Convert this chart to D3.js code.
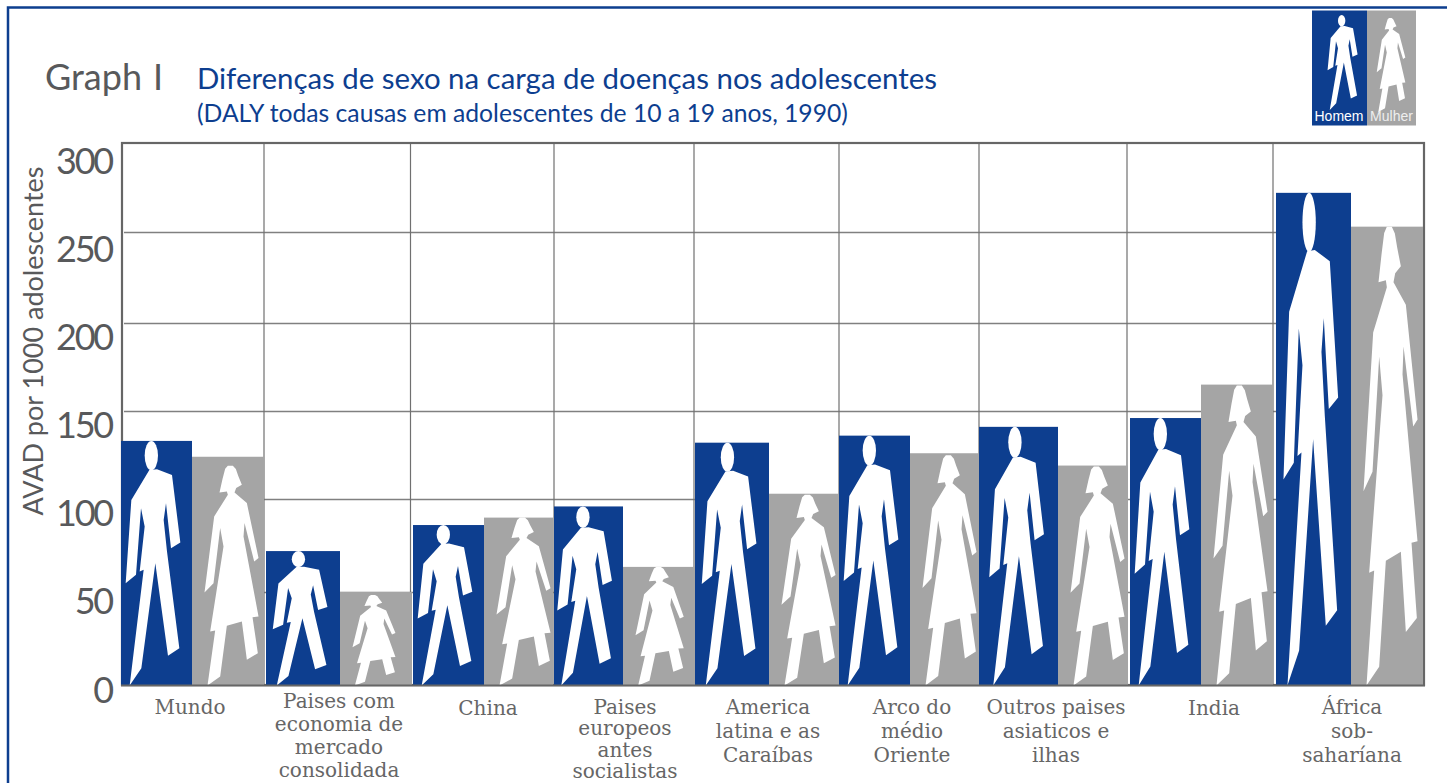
<!DOCTYPE html>
<html>
<head>
<meta charset="utf-8">
<script src="https://cdn.jsdelivr.net/npm/d3@7"></script>
<style>
    body { margin: 0; background: #fff; overflow: hidden; }
    svg { display: block; }
    .sans { font-family: Lato, "Open Sans", sans-serif; }
    .slab { font-family: "DejaVu Serif", serif; }
</style>
</head>
<body>
<div id="chart"></div>
<script>
var categories = ['Mundo', 'Paises com economia', 'China', 'Paises europeos', 'America latina',
                  'Arco do médio Oriente', 'Outros paises', 'India', 'África sob-saharíana'];
var homem  = [133, 72, 86, 96, 132, 136, 141, 146, 272];
var mulher = [124, 50, 90, 63.5, 103, 126, 119, 165, 253];
var categoryLines = [
    ['Mundo'],
    ['Paises com', 'economia de', 'mercado', 'consolidada'],
    ['China'],
    ['Paises', 'europeos', 'antes', 'socialistas'],
    ['America', 'latina e as', 'Caraíbas'],
    ['Arco do', 'médio', 'Oriente'],
    ['Outros paises', 'asiaticos e', 'ilhas'],
    ['India'],
    ['África', 'sob-', 'saharíana']
];
var yTicks = [0, 50, 100, 150, 200, 250, 300];

var blue = '#0d3e8f', grey = '#a5a5a5', ink = '#58595b', rule = '#808080';

// figures, in crop pixels
var manBox = {x: [362, 575], y: [63, 797]};
var manBody = [[447,150],[470,148],[515,165],[540,368],[512,385],[497,250],[490,300],[500,395],[537,685],[503,708],
               [465,430],[423,745],[388,797],[430,450],[418,455],[433,320],[422,265],[407,465],[376,490],[393,240]];
var manHead = {cx: 453, cy: 107, rx: 20, ry: 44};
var womanBox = {x: [575, 790], y: [138, 797]};
var womanBody = [[683,138],[698,138],[707,148],[714,168],[725,195],[708,205],[703,218],[740,250],[775,415],[762,425],[733,310],
                 [730,350],[775,590],[757,592],[773,700],[740,720],[725,605],[680,618],[660,770],[622,797],[645,632],
                 [630,635],[670,380],[660,325],[640,490],[613,518],[642,290],[683,225],[680,215],[658,218],[667,178],[675,147]];

var svg = d3.select('#chart').append('svg').attr('width', 1447).attr('height', 783);

// the printed axis is not quite even, so the scale goes through each gridline
var y = d3.scaleLinear().domain(yTicks).range([685, 592, 499, 411, 323, 232, 143]);
// and the numbers sit below their gridlines
var yLabel = d3.scaleLinear().domain([0, 300]).range([690.5, 162]);

// groups are not the same width either
var barLeft  = d3.scaleOrdinal().domain(categories).range([121, 266, 413, 554, 695, 839, 979, 1130, 1276]);
var barMid   = d3.scaleOrdinal().domain(categories).range([192, 340, 484, 623, 769, 910, 1058, 1201, 1351]);
var barRight = d3.scaleOrdinal().domain(categories).range([264, 412, 553, 695, 839, 979, 1128, 1273, 1423]);
var labelX   = d3.scaleOrdinal().domain(categories).range([190, 339, 488, 625, 768, 912, 1056, 1214, 1352]);
var labelTop = d3.scaleOrdinal().domain(categories).range([714, 708, 715, 714, 714, 714, 714, 715, 714]);
// socialistas has to stay on the page
var labelStep = d3.scaleOrdinal().domain(categories).range([24, 23, 24, 21.4, 24, 24, 24, 24, 24]);
var hairGap  = d3.scaleOrdinal().domain(categories).range([9, 3, 0, 0, 1, 2, 1, 1, 0]);
// the two short women are also drawn narrower
var womanWidth = d3.scaleOrdinal().domain(categories).range([71.7, 57, 71.7, 64, 71.7, 71.7, 71.7, 71.7, 71.7]);
var groupLines = [264, 410.5, 554, 694, 839, 979, 1127, 1273];

var lineGen = d3.line();

function drawMan(g, x0, x1, y0, y1) {
    var sx = d3.scaleLinear().domain(manBox.x).range([x0, x1]);
    var sy = d3.scaleLinear().domain(manBox.y).range([y0, y1]);
    g.append('path')
        .attr('d', lineGen(manBody.map(function(p) { return [sx(p[0]), sy(p[1])]; })) + 'Z')
        .attr('fill', '#fff');
    g.append('ellipse')
        .attr('cx', sx(manHead.cx)).attr('cy', sy(manHead.cy))
        .attr('rx', sx(manHead.cx + manHead.rx) - sx(manHead.cx))
        .attr('ry', sy(manHead.cy + manHead.ry) - sy(manHead.cy))
        .attr('fill', '#fff');
}

function drawWoman(g, x0, x1, y0, y1) {
    var sx = d3.scaleLinear().domain(womanBox.x).range([x0, x1]);
    var sy = d3.scaleLinear().domain(womanBox.y).range([y0, y1]);
    g.append('path')
        .attr('d', lineGen(womanBody.map(function(p) { return [sx(p[0]), sy(p[1])]; })) + 'Z')
        .attr('fill', '#fff');
}

// blue page frame, open on the right
svg.append('path')
    .attr('d', 'M1447,7.5H8V783')
    .attr('fill', 'none').attr('stroke', blue).attr('stroke-width', 2.5);

// titles
svg.append('text').attr('class', 'sans').attr('x', 45).attr('y', 90)
    .attr('font-size', 36).attr('fill', ink).text('Graph');
svg.append('text').attr('class', 'sans').attr('x', 153).attr('y', 90)
    .attr('font-size', 36).attr('fill', ink).text('I');
svg.append('text').attr('class', 'sans').attr('x', 197).attr('y', 89)
    .attr('font-size', 29.4).attr('fill', blue).text('Diferenças de sexo na carga de doenças nos adolescentes');
svg.append('text').attr('class', 'sans').attr('x', 197).attr('y', 122)
    .attr('font-size', 24.7).attr('fill', blue).text('(DALY todas causas em adolescentes de 10 a 19 anos, 1990)');

// gridlines
var grid = svg.append('g').attr('transform', 'translate(124,0)')
    .call(d3.axisLeft(y).tickValues(yTicks.slice(1, -1)).tickSize(-1299).tickFormat(''));
grid.select('.domain').remove();
grid.selectAll('line').attr('stroke', rule).attr('stroke-width', 1.5);

svg.append('g').selectAll('line')
    .data(groupLines)
  .enter().append('line')
    .attr('x1', function(d) { return d; }).attr('x2', function(d) { return d; })
    .attr('y1', y(300)).attr('y2', y(0))
    .attr('stroke', '#707070').attr('stroke-width', 1.2);

// frame of the plot
svg.append('rect')
    .attr('x', 122).attr('y', y(300))
    .attr('width', 1302).attr('height', y(0) - y(300))
    .attr('fill', 'none').attr('stroke', '#666').attr('stroke-width', 2.2);

// bars and figures
var groups = svg.append('g').selectAll('g')
    .data(categories)
  .enter().append('g');

groups.each(function(c, i) {
    var g = d3.select(this);
    var x0 = barLeft(c), xm = barMid(c), x1 = barRight(c);

    g.append('rect')
        .attr('x', x0).attr('y', y(homem[i]))
        .attr('width', xm - x0).attr('height', y(0) - y(homem[i]))
        .attr('fill', blue);
    g.append('rect')
        .attr('x', xm).attr('y', y(mulher[i]))
        .attr('width', x1 - xm).attr('height', y(0) - y(mulher[i]))
        .attr('fill', grey);

    var shift = 0.7 * ((xm - x0) - 71);
    drawMan(g, x0 + shift, x0 + shift + 71, y(homem[i]), y(0) + 0.5);

    // left hand stays about 12.5px in from the bar edge
    var w = womanWidth(c);
    var wx = xm + 12.5 - w * 38 / 215;
    drawWoman(g, wx, wx + w, y(mulher[i]) + hairGap(c), y(0) + 0.5);
});

// base line goes over the bars
svg.append('line')
    .attr('x1', 121).attr('x2', 1425)
    .attr('y1', y(0) + 0.5).attr('y2', y(0) + 0.5)
    .attr('stroke', '#666').attr('stroke-width', 2);

// y axis numbers
var yAxis = svg.append('g').attr('transform', 'translate(112,0)')
    .call(d3.axisLeft(yLabel).tickValues(yTicks).tickSize(0).tickPadding(0));
yAxis.select('.domain').remove();
yAxis.selectAll('text')
    .attr('class', 'sans')
    .attr('font-size', 36)
    .attr('letter-spacing', -2.2)
    .attr('fill', ink)
    .style('font-family', 'Lato, sans-serif');

svg.append('text').attr('class', 'sans')
    .attr('transform', 'translate(43,341) rotate(-90)')
    .attr('text-anchor', 'middle')
    .attr('font-size', 27).attr('fill', ink)
    .text('AVAD por 1000 adolescentes');

// category labels
groups.each(function(c, i) {
    var t = d3.select(this).append('text')
        .attr('class', 'slab')
        .attr('text-anchor', 'middle')
        .attr('font-size', 20)
        .attr('fill', '#666');
    categoryLines[i].forEach(function(line, k) {
        t.append('tspan')
            .attr('x', labelX(c))
            .attr('y', labelTop(c) + k * labelStep(c))
            .text(line);
    });
});

// legend, top right
var legend = svg.append('g');
legend.append('rect').attr('x', 1312).attr('y', 10.5).attr('width', 55).attr('height', 115).attr('fill', blue);
legend.append('rect').attr('x', 1367).attr('y', 10.5).attr('width', 49).attr('height', 115).attr('fill', grey);
drawMan(legend, 1325, 1364, 15, 110);
drawWoman(legend, 1370, 1408, 18, 112);
legend.append('text').attr('x', 1339).attr('y', 121).attr('text-anchor', 'middle')
    .attr('font-family', '"Liberation Sans", sans-serif').attr('font-size', 14).attr('fill', '#fff').text('Homem');
legend.append('text').attr('x', 1391.5).attr('y', 121).attr('text-anchor', 'middle')
    .attr('font-family', '"Liberation Sans", sans-serif').attr('font-size', 14).attr('fill', '#eee').text('Mulher');
</script>
</body>
</html>
